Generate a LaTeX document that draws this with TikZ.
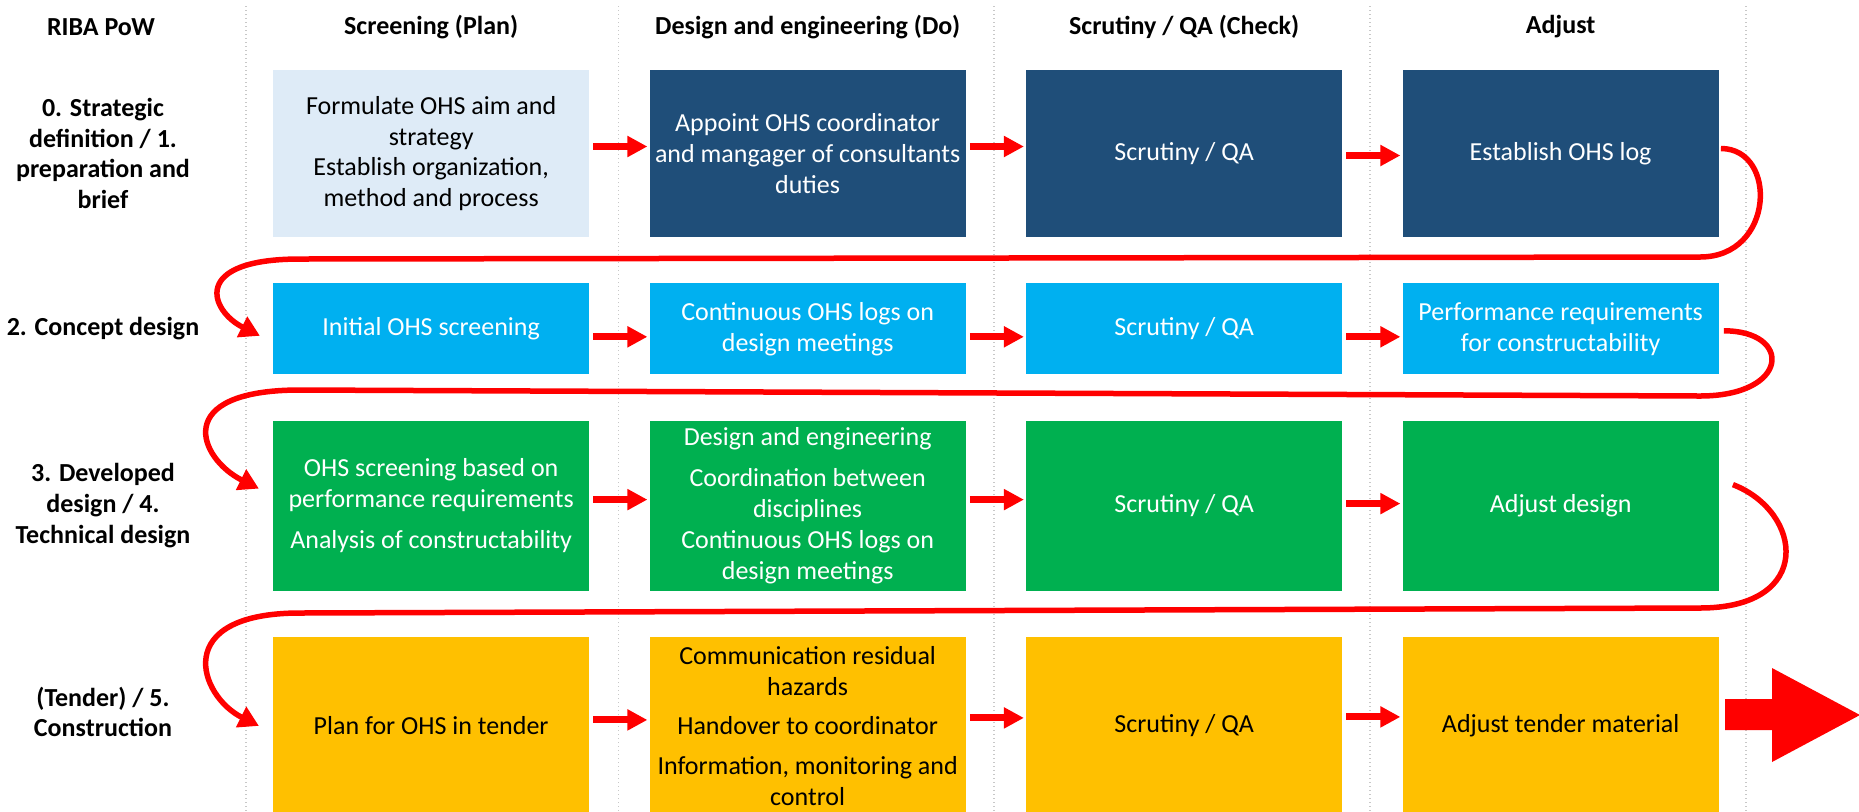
\documentclass[tikz,border=0pt]{standalone}
\usepackage{fontspec}
\setmainfont{Carlito}
\usepackage{tikz}
\usetikzlibrary{arrows.meta, positioning}
\definecolor{planblue}{RGB}{222, 235, 247}
\definecolor{navyblue}{RGB}{31, 78, 121}
\definecolor{skyblue}{RGB}{0, 176, 240}
\definecolor{leafgreen}{RGB}{0, 176, 80}
\definecolor{ambergold}{RGB}{255, 192, 0}
\definecolor{guidegray}{RGB}{200, 200, 200}

\begin{document}
\begin{tikzpicture}[
  x=0.5pt, y=-0.5pt,
  node distance=22.75pt and 30pt,
  font=\fontsize{13}{15.4}\selectfont,
  task/.style={rectangle, minimum width=157.85pt, inner sep=1pt, align=center, text=white},
  rowa/.style={task, minimum height=83.5pt, fill=navyblue},
  rowb/.style={task, minimum height=45.5pt, fill=skyblue},
  rowc/.style={task, minimum height=85pt, fill=leafgreen},
  rowd/.style={task, minimum height=89pt, fill=ambergold, text=black},
  head/.style={font=\fontsize{13}{15.4}\selectfont\bfseries},
  phase/.style={align=center, font=\fontsize{13}{15.4}\selectfont\bfseries},
  flow/.style={-{Triangle[length=10pt, width=10pt]}, line width=3.5pt, red},
  turn/.style={-{Triangle[length=10pt, width=11pt]}, line width=2.75pt, red},
  guide/.style={guidegray, line width=0.6pt, dash pattern=on 0.6pt off 1.4pt}
]
  \useasboundingbox (0,0) rectangle (1859,811);

  % column separators
  \draw[guide] (246,6) -- (246,811);
  \draw[guide] (618.5,6) -- (618.5,811);
  \draw[guide] (994,6) -- (994,811);
  \draw[guide] (1370,6) -- (1370,811);
  \draw[guide] (1746,6) -- (1746,811);

  % task grid
  \node[rowa, fill=planblue, text=black] (b11) at (431.15,153.5) {Formulate OHS aim and\\strategy\\Establish organization,\\method and process};
  \node[rowa, right=of b11] (b12) {Appoint OHS coordinator\\and mangager of consultants\\duties};
  \node[rowa, right=of b12] (b13) {Scrutiny / QA};
  \node[rowa, right=of b13] (b14) {Establish OHS log};

  \node[rowb, below=of b11] (b21) {Initial OHS screening};
  \node[rowb, right=of b21] (b22) {Continuous OHS logs on\\design meetings};
  \node[rowb, right=of b22] (b23) {Scrutiny / QA};
  \node[rowb, right=of b23] (b24) {Performance requirements\\for constructability};

  \node[rowc, below=of b21] (b31) {OHS screening based on\\performance requirements\\[5pt]Analysis of constructability};
  \node[rowc, right=of b31] (b32) {Design and engineering\\[5pt]Coordination between\\disciplines\\Continuous OHS logs on\\design meetings};
  \node[rowc, right=of b32] (b33) {Scrutiny / QA};
  \node[rowc, right=of b33] (b34) {Adjust design};

  \node[rowd, below=of b31] (b41) {Plan for OHS in tender};
  \node[rowd, right=of b41] (b42) {Communication residual\\hazards\\[4.5pt]Handover to coordinator\\[4.5pt]Information, monitoring and\\control};
  \node[rowd, right=of b42] (b43) {Scrutiny / QA};
  \node[rowd, right=of b43] (b44) {Adjust tender material};

  % headers and phase labels
  \coordinate (hdr) at (0,27);
  \coordinate (lbl) at (103,0);
  \node[head] (hpow) at (101,27) {RIBA PoW};
  \node[head] (hplan) at (b11 |- hdr) {Screening (Plan)};
  \node[head] (hdo) at (b12 |- hdr) {Design and engineering (Do)};
  \node[head] (hcheck) at (b13 |- hdr) {Scrutiny / QA (Check)};
  \node[head] (hadj) at (b14 |- hdr) {Adjust};

  \node[phase] (p1) at (lbl |- b11) {0. Strategic\\definition / 1.\\preparation and\\brief};
  \node[phase] (p2) at (lbl |- b21) {2. Concept design};
  \node[phase] (p3) at (lbl |- b31) {3. Developed\\design / 4.\\Technical design};
  \node[phase, yshift=7pt] (p4) at (lbl |- b41) {(Tender) / 5.\\Construction};

  % steps along each row
  \draw[flow] ([shift={(4,-7)}]b11.east) -- ([shift={(-2,-7)}]b12.west);
  \draw[flow] ([shift={(4,-7)}]b12.east) -- ([shift={(-2,-7)}]b13.west);
  \draw[flow] ([shift={(4,2)}]b13.east) -- ([shift={(-2,2)}]b14.west);
  \draw[flow] ([shift={(4,8)}]b21.east) -- ([shift={(-2,8)}]b22.west);
  \draw[flow] ([shift={(4,8)}]b22.east) -- ([shift={(-2,8)}]b23.west);
  \draw[flow] ([shift={(4,8)}]b23.east) -- ([shift={(-2,8)}]b24.west);
  \draw[flow] ([shift={(4,-6)}]b31.east) -- ([shift={(-2,-6)}]b32.west);
  \draw[flow] ([shift={(4,-6)}]b32.east) -- ([shift={(-2,-6)}]b33.west);
  \draw[flow] ([shift={(4,-2)}]b33.east) -- ([shift={(-2,-2)}]b34.west);
  \draw[flow] ([shift={(4,-6)}]b41.east) -- ([shift={(-2,-6)}]b42.west);
  \draw[flow] ([shift={(4,-8)}]b42.east) -- ([shift={(-2,-8)}]b43.west);
  \draw[flow] ([shift={(4,-9)}]b43.east) -- ([shift={(-2,-9)}]b44.west);

  % return loops to the next row
  \draw[turn] ([shift={(2,-5)}]b14.east) .. controls +(57,0) and +(75,0) .. (1700,257)
    -- (300,259) .. controls +(-110,0) and +(-50,-25) .. ([shift={(-13,7)}]b21.west);
  \draw[turn] ([shift={(5,2)}]b24.east) .. controls +(69,0) and +(90,0) .. (1700,396)
    -- (300,390) .. controls +(-130,0) and +(-60,-30) .. ([shift={(-14,-17)}]b31.west);
  \draw[turn] ([shift={(14,-21)}]b34.east) .. controls +(70,27) and +(115,0) .. (1700,608)
    -- (300,613) .. controls +(-130,0) and +(-60,-30) .. ([shift={(-14,0)}]b41.west);

  % onward arrow
  \fill[red] (1725,699) -- (1772,699) -- (1772,668) -- (1860,715) -- (1772,762)
    -- (1772,730) -- (1725,730) -- cycle;
\end{tikzpicture}
\end{document}
